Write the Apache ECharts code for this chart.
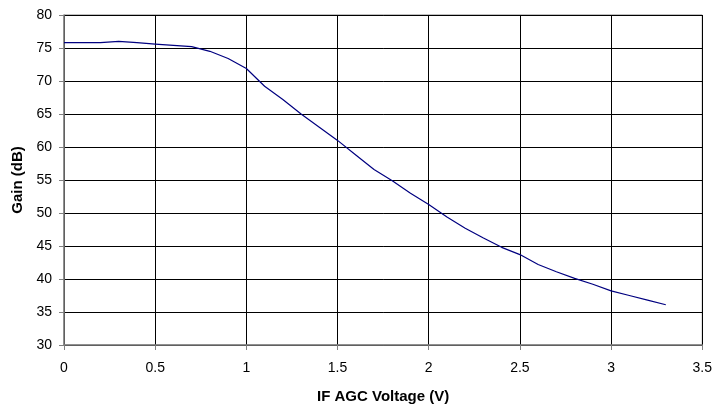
<!DOCTYPE html>
<html>
<head>
<meta charset="utf-8">
<script src="https://cdn.jsdelivr.net/npm/echarts@6/dist/echarts.min.js"></script>
<style>html,body{margin:0;padding:0;background:#fff}#c{width:715px;height:409px}</style>
</head>
<body>
<div id="c"></div>
<script>
var voltage = [0,0.1,0.2,0.3,0.4,0.5,0.6,0.7,0.8,0.9,1.0,1.1,1.2,1.3,1.4,1.5,1.6,1.7,1.8,1.9,2.0,2.1,2.2,2.3,2.4,2.5,2.6,2.7,2.8,2.9,3.0,3.1,3.2,3.3];
var gain = [75.8,75.8,75.8,76.0,75.8,75.6,75.4,75.2,74.5,73.4,71.9,69.2,67.2,65.0,63.0,61.0,58.8,56.6,54.9,53.0,51.3,49.4,47.7,46.2,44.8,43.7,42.2,41.1,40.1,39.2,38.2,37.5,36.8,36.1];
var xTitle = 'IF AGC Voltage (V)';
var yTitle = 'Gain (dB)';

var chart = echarts.init(document.getElementById('c'));
var font = 'Liberation Sans, Arial, sans-serif';
chart.setOption({
  animation: false,
  grid: {left: 64, right: 12, top: 15, bottom: 62, show: true, borderColor: '#808080', borderWidth: 1},
  xAxis: {
    type: 'value', min: 0, max: 3.5, interval: 0.5,
    name: xTitle, nameLocation: 'middle', nameGap: 44,
    nameTextStyle: {fontFamily: font, fontSize: 15, fontWeight: 'bold', color: '#000'},
    axisLine: {show: true, onZero: false, lineStyle: {color: '#808080', width: 1.5}},
    axisTick: {show: true, length: 5, lineStyle: {color: '#808080'}},
    axisLabel: {fontFamily: font, fontSize: 14, color: '#000', margin: 16},
    splitLine: {show: true, lineStyle: {color: '#000', width: 1}}
  },
  yAxis: {
    type: 'value', min: 30, max: 80, interval: 5,
    name: yTitle, nameLocation: 'middle', nameGap: 37,
    nameTextStyle: {fontFamily: font, fontSize: 15, fontWeight: 'bold', color: '#000'},
    axisLine: {show: true, lineStyle: {color: '#808080', width: 1.5}},
    axisTick: {show: true, length: 5, lineStyle: {color: '#808080'}},
    axisLabel: {fontFamily: font, fontSize: 14, color: '#000', margin: 12},
    splitLine: {show: true, lineStyle: {color: '#000', width: 1}}
  },
  series: [{
    type: 'line',
    data: voltage.map(function(v, i){ return [v, gain[i]]; }),
    showSymbol: false,
    lineStyle: {color: '#000080', width: 1.2},
    itemStyle: {color: '#000080'}
  }]
});
</script>
</body>
</html>
